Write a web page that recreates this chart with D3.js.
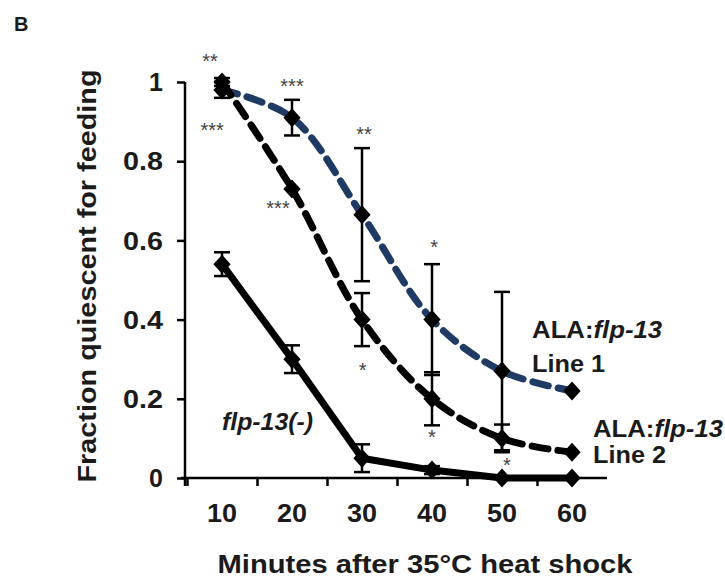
<!DOCTYPE html>
<html>
<head>
<meta charset="utf-8">
<script src="https://cdn.jsdelivr.net/npm/d3@7.9.0/dist/d3.min.js"></script>
<style>
  body { margin: 0; background: #fff; }
  svg { display: block; font-family: Arial, "Liberation Sans", sans-serif; }
</style>
</head>
<body>
<svg id="chart" width="725" height="579"></svg>
<script>
// minutes after heat shock (x categories)
const minutes = [10, 20, 30, 40, 50, 60];
const yTicks = [0, 0.2, 0.4, 0.6, 0.8, 1];

// fraction quiescent
const flpNull = [0.54, 0.30, 0.05, 0.02, 0, 0];
const flpNullErr = [0.03, 0.035, 0.035, 0.01, 0, 0];
const line1 = [0.98, 0.91, 0.665, 0.40, 0.27, 0.22];
const line1Err = [0.02, 0.045, 0.168, 0.14, 0.20, 0];
const line2 = [1.0, 0.73, 0.40, 0.20, 0.10, 0.065];
const line2Err = [0.01, 0, 0.067, 0.067, 0.035, 0];

// significance stars (minute position, fraction position, text)
const starMin = [8.3, 20, 8.6, 18, 30.3, 40.3, 30.1, 40, 50.7];
const starFrac = [1.06, 0.997, 0.886, 0.69, 0.876, 0.59, 0.28, 0.11, 0.04];
const starText = ['**', '***', '***', '***', '**', '*', '*', '*', '*'];

const svg = d3.select('#chart');
const textColor = '#1b1b1b';
const blue = '#1f3b64';

const x = d3.scaleBand().domain(minutes).range([187, 607]).padding(0);
const cx = d => x(d) + x.bandwidth() / 2;
// continuous helper for annotations placed between categories
const xm = d3.scaleLinear().domain([10, 60]).range([cx(10), cx(60)]);
const y = d3.scaleLinear().domain([0, 1]).range([478, 82]);

// panel letter
svg.append('text')
  .attr('x', 14).attr('y', 31)
  .attr('font-size', 20).attr('font-weight', 'bold')
  .attr('fill', textColor)
  .text('B');

// y axis
const yAxis = svg.append('g')
  .attr('transform', 'translate(185,0)')
  .call(d3.axisLeft(y).tickValues(yTicks).tickSize(8).tickSizeOuter(0)
    .tickFormat(d => d === 0 ? '0' : d === 1 ? '1' : d3.format('.1f')(d)));
yAxis.select('.domain').attr('stroke', '#000').attr('stroke-width', 2.5)
  .attr('d', `M0,${y(1)}V${y(0) + 8}`);
yAxis.selectAll('.tick line').attr('stroke', '#000').attr('stroke-width', 2.5);
yAxis.selectAll('.tick text')
  .attr('x', -22).attr('dy', '0.35em')
  .attr('font-size', 25).attr('font-weight', 'bold')
  .attr('fill', textColor)
  .attr('textLength', d => d === 0 || d === 1 ? null : 40)
  .attr('lengthAdjust', 'spacingAndGlyphs');

// x axis: boundary ticks between categories
const xb = d3.scaleLinear().domain([0, minutes.length]).range(x.range());
const xAxisTicks = svg.append('g')
  .attr('transform', `translate(0,${y(0)})`)
  .call(d3.axisBottom(xb).tickValues(d3.range(0, minutes.length)).tickSize(8).tickSizeOuter(0).tickFormat(''));
xAxisTicks.select('.domain').attr('stroke', '#000').attr('stroke-width', 2.5)
  .attr('d', `M181,0H607`);
xAxisTicks.selectAll('.tick line').attr('stroke', '#000').attr('stroke-width', 2.5);

// x labels
const xAxis = svg.append('g')
  .attr('transform', `translate(0,${y(0)})`)
  .call(d3.axisBottom(x).tickSize(0));
xAxis.select('.domain').remove();
xAxis.selectAll('.tick text')
  .attr('y', 44).attr('dy', 0)
  .attr('font-size', 25).attr('font-weight', 'bold')
  .attr('fill', textColor)
  .attr('textLength', 30).attr('lengthAdjust', 'spacingAndGlyphs');

// axis titles
svg.append('text')
  .attr('x', 425).attr('y', 573)
  .attr('text-anchor', 'middle')
  .attr('font-size', 25).attr('font-weight', 'bold')
  .attr('fill', textColor)
  .attr('textLength', 415).attr('lengthAdjust', 'spacingAndGlyphs')
  .text('Minutes after 35°C heat shock');

svg.append('text')
  .attr('transform', 'translate(96,276) rotate(-90)')
  .attr('text-anchor', 'middle')
  .attr('font-size', 25).attr('font-weight', 'bold')
  .attr('fill', textColor)
  .attr('textLength', 413).attr('lengthAdjust', 'spacingAndGlyphs')
  .text('Fraction quiescent for feeding');

// series
const series = [
  { vals: line1, err: line1Err, color: blue, dash: '16,10' },
  { vals: line2, err: line2Err, color: '#000', dash: '16,10' },
  { vals: flpNull, err: flpNullErr, color: '#000', dash: null }
];

const lineGen = d3.line()
  .x((d, i) => cx(minutes[i]))
  .y(d => y(d))
  .curve(d3.curveCatmullRom.alpha(0.5));
const straight = d3.line()
  .x((d, i) => cx(minutes[i]))
  .y(d => y(d));

series.forEach(s => {
  svg.append('path')
    .datum(s.vals)
    .attr('d', s.dash ? lineGen : straight)
    .attr('fill', 'none')
    .attr('stroke', s.color)
    .attr('stroke-width', 7)
    .attr('stroke-linecap', s.dash ? 'round' : 'butt')
    .attr('stroke-linejoin', 'round')
    .attr('stroke-dasharray', s.dash);
});

// error bars
series.forEach(s => {
  const g = svg.append('g');
  s.vals.forEach((v, i) => {
    const e = s.err[i];
    if (!e) return;
    const px = cx(minutes[i]);
    g.append('line').attr('x1', px).attr('x2', px)
      .attr('y1', y(v + e)).attr('y2', y(v - e));
    [v + e, v - e].forEach(c => {
      g.append('line').attr('x1', px - 8).attr('x2', px + 8)
        .attr('y1', y(c)).attr('y2', y(c));
    });
  });
  g.selectAll('line').attr('stroke', '#000').attr('stroke-width', 2.5);
});

// diamond markers
const diamond = d3.symbol().type(d3.symbolDiamond2).size(190);
series.forEach(s => {
  svg.append('g').selectAll('path')
    .data(s.vals)
    .join('path')
    .attr('d', diamond)
    .attr('transform', (d, i) => `translate(${cx(minutes[i])},${y(d)}) scale(1,1.1)`)
    .attr('fill', '#000');
});

// stars
svg.append('g').selectAll('text')
  .data(starText)
  .join('text')
  .attr('x', (d, i) => xm(starMin[i]))
  .attr('y', (d, i) => y(starFrac[i]) + 10)
  .attr('text-anchor', 'middle')
  .attr('font-size', 20)
  .attr('fill', '#444')
  .text(d => d);

// series labels
function label(min, frac, parts) {
  const t = svg.append('text')
    .attr('x', xm(min)).attr('y', y(frac))
    .attr('font-size', 24).attr('font-weight', 'bold')
    .attr('fill', textColor);
  parts.forEach(p => {
    t.append('tspan').attr('font-style', p[1] ? 'italic' : 'normal').text(p[0]);
  });
  return t;
}
label(54.3, 0.354, [['ALA:', false], ['flp-13', true]]).attr('textLength', 130).attr('lengthAdjust', 'spacingAndGlyphs');
label(54.3, 0.268, [['Line 1', false]]).attr('textLength', 73).attr('lengthAdjust', 'spacingAndGlyphs');
label(63.0, 0.104, [['ALA:', false], ['flp-13', true]]).attr('textLength', 130).attr('lengthAdjust', 'spacingAndGlyphs');
label(63.0, 0.038, [['Line 2', false]]).attr('textLength', 73).attr('lengthAdjust', 'spacingAndGlyphs');
label(10.0, 0.121, [['flp-13(-)', true]]).attr('textLength', 91).attr('lengthAdjust', 'spacingAndGlyphs');
</script>
</body>
</html>
